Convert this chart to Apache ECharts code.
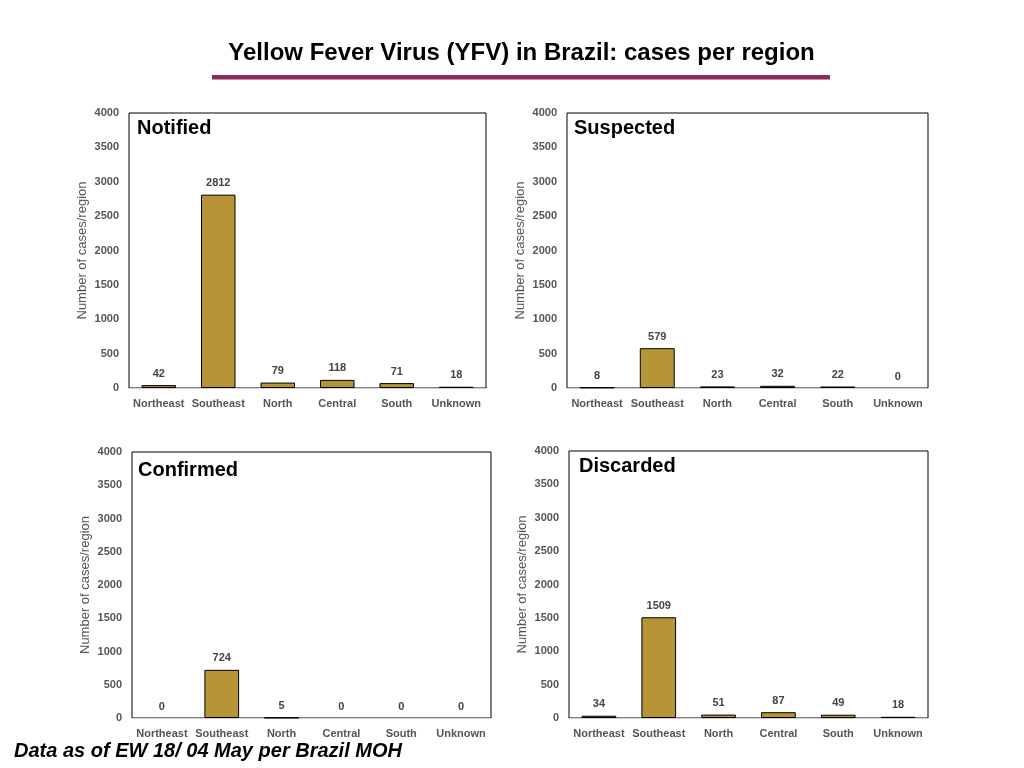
<!DOCTYPE html>
<html><head><meta charset="utf-8">
<script src="https://cdn.jsdelivr.net/npm/echarts@6/dist/echarts.min.js"></script>
<style>html,body{margin:0;padding:0;background:#fff}#c{width:1024px;height:768px}</style>
</head><body><div id="c"></div>
<script>
const categories = ['Northeast','Southeast','North','Central','South','Unknown'];
const notified  = [42, 2812, 79, 118, 71, 18];
const suspected = [8, 579, 23, 32, 22, 0];
const confirmed = [0, 724, 5, 0, 0, 0];
const discarded = [34, 1509, 51, 87, 49, 18];
const panelNames = ['Notified','Suspected','Confirmed','Discarded'];
const yTicks = {min: 0, max: 4000, interval: 500};

const seriesData = [notified, suspected, confirmed, discarded];
const grids = [
  {left: 129, top: 113, width: 357, height: 275},
  {left: 567, top: 113, width: 361, height: 275},
  {left: 132, top: 452, width: 359, height: 266},
  {left: 569, top: 451, width: 359, height: 267}
];
const titlePos = [
  {left: 137, top: 118},
  {left: 574, top: 118},
  {left: 138, top: 460},
  {left: 579, top: 456}
];
const FF = '"Liberation Sans", Arial, Helvetica, sans-serif';
const gray = '#555555';

const chart = echarts.init(document.getElementById('c'));
const option = {
  backgroundColor: '#fff',
  animation: false,
  textStyle: {fontFamily: FF},
  title: [
    {text: 'Data as of EW 18/ 04 May per Brazil MOH', left: 14, top: 741, padding: 0,
     textStyle: {fontFamily: FF, fontSize: 20, fontWeight: 'bold', fontStyle: 'italic', color: '#000'}}
  ].concat(panelNames.map((n, i) => ({
     text: n, left: titlePos[i].left, top: titlePos[i].top, padding: 0,
     textStyle: {fontFamily: FF, fontSize: 20, fontWeight: 'bold', color: '#000'}}))),
  graphic: [
    {type: 'text', x: 521.5, y: 53, z: 10,
     style: {text: 'Yellow Fever Virus (YFV) in Brazil: cases per region',
             font: 'bold 24px "Liberation Sans", Arial, sans-serif',
             fill: '#000', align: 'center', verticalAlign: 'middle'}},
    {type: 'rect', shape: {x: 212, y: 75, width: 618, height: 4.5}, style: {fill: '#8B2B57'}}
  ],
  grid: grids.map(g => Object.assign({show: true, borderColor: '#000', borderWidth: 1, backgroundColor: 'transparent'}, g)),
  xAxis: grids.map((g, i) => ({
    type: 'category', gridIndex: i, data: categories,
    axisLine: {show: true, lineStyle: {color: '#cfcfcf', width: 1}},
    axisTick: {show: false},
    axisLabel: {interval: 0, margin: 10, fontSize: 11, fontWeight: 'bold', color: gray, fontFamily: FF}
  })),
  yAxis: grids.map((g, i) => ({
    type: 'value', gridIndex: i, min: yTicks.min, max: yTicks.max, interval: yTicks.interval,
    splitLine: {show: false}, axisLine: {show: false}, axisTick: {show: false},
    axisLabel: {margin: 10, fontSize: 11, fontWeight: 'bold', color: gray, fontFamily: FF,
                formatter: v => String(v)},
    name: 'Number of cases/region', nameLocation: 'middle', nameGap: 40, nameRotate: 90,
    nameTextStyle: {fontSize: 13, color: gray, fontFamily: FF}
  })),
  series: seriesData.map((arr, i) => ({
    type: 'bar', xAxisIndex: i, yAxisIndex: i, barWidth: '58%',
    data: arr.map(v => v === 0 ? {value: v, itemStyle: {borderWidth: 0}} : v),
    itemStyle: {color: '#B79537', borderColor: '#000', borderWidth: 1},
    label: {show: true, position: 'top', distance: 6, fontSize: 11, fontWeight: 'bold', color: '#444', fontFamily: FF}
  }))
};
chart.setOption(option);
</script></body></html>
